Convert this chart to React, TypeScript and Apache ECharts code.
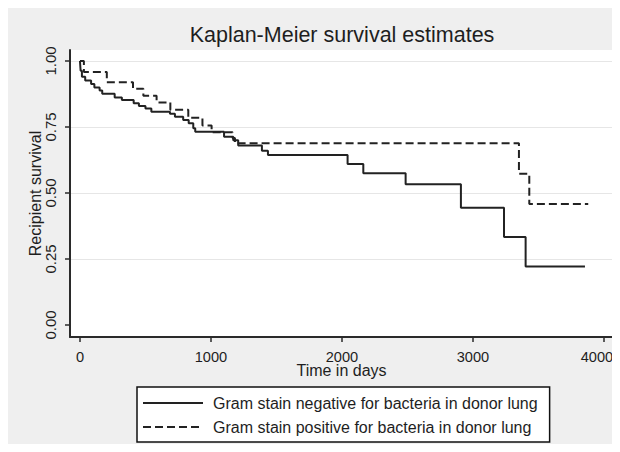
import React, { useEffect, useRef } from "react";
import * as echarts from "echarts";

const chartTitle = "Kaplan-Meier survival estimates";
const xAxisTitle = "Time in days";
const yAxisTitle = "Recipient survival";
const xTicks = [0, 1000, 2000, 3000, 4000];
const yTicks = [0, 0.25, 0.5, 0.75, 1];
const seriesNames = [
  "Gram stain negative for bacteria in donor lung",
  "Gram stain positive for bacteria in donor lung",
];

const negTimes = [0, 5, 15, 40, 85, 110, 150, 170, 265, 320, 410, 450, 500, 545, 687, 725, 788, 830, 865, 880, 1100, 1170, 1208, 1389, 1435, 2043, 2163, 2486, 2908, 3237, 3402, 3855];
const negSurv = [1.0, 0.963, 0.94, 0.926, 0.913, 0.9, 0.888, 0.876, 0.862, 0.852, 0.84, 0.83, 0.82, 0.808, 0.8, 0.789, 0.777, 0.764, 0.745, 0.732, 0.713, 0.7, 0.68, 0.66, 0.644, 0.61, 0.575, 0.533, 0.444, 0.333, 0.222, 0.222];

const posTimes = [0, 30, 205, 405, 484, 585, 690, 827, 935, 1005, 1165, 1183, 3351, 3430, 3880];
const posSurv = [1.0, 0.958, 0.92, 0.895, 0.868, 0.843, 0.815, 0.785, 0.756, 0.73, 0.708, 0.688, 0.573, 0.458, 0.458];

const FONT = '"Liberation Sans", Arial, sans-serif';
const TEXT = "#1e1e1e";
const AXIS = "#2a2a2a";

export default function App() {
  const ref = useRef<HTMLDivElement>(null);
  useEffect(() => {
    if (!ref.current) return;
    const chart = echarts.init(ref.current, null, { renderer: "svg" });
    const lastTick = xTicks[xTicks.length - 1];
    const option: any = {
      animation: false,
      backgroundColor: "#efefef",
      title: {
        text: chartTitle,
        left: 334,
        top: 16,
        textAlign: "center",
        padding: 0,
        textStyle: { fontSize: 21.5, fontWeight: "normal", color: TEXT, fontFamily: FONT },
      },
      grid: {
        left: 62,
        right: 35,
        top: 42,
        bottom: 107,
        show: true,
        backgroundColor: "#ffffff",
        borderWidth: 0,
        outerBoundsMode: "none",
      },
      legend: {
        orient: "vertical",
        left: 129,
        top: 379,
        itemWidth: 60,
        itemHeight: 14,
        itemGap: 8,
        padding: [8, 12, 7, 5],
        backgroundColor: "#ffffff",
        borderColor: "#111",
        borderWidth: 1.5,
        selectedMode: false,
        data: seriesNames,
        itemStyle: { opacity: 0 },
        textStyle: { fontSize: 16, color: TEXT, fontFamily: FONT, padding: [0, 0, 0, 5] },
      },
      xAxis: {
        type: "value",
        min: -76,
        max: 4069,
        name: xAxisTitle,
        nameLocation: "middle",
        nameGap: 25,
        nameMoveOverlap: false,
        nameTextStyle: { fontSize: 16, color: TEXT, fontFamily: FONT },
        axisLine: { show: true, onZero: false, lineStyle: { color: AXIS, width: 2 } },
        axisTick: { show: true, customValues: xTicks, length: 5, lineStyle: { color: AXIS, width: 1.5 } },
        axisLabel: {
          customValues: xTicks,
          margin: 12,
          fontSize: 14.6,
          color: TEXT,
          fontFamily: FONT,
          formatter: (v: number) => (v === lastTick ? `{last|${v}}` : String(v)),
          rich: {
            last: { fontSize: 14.6, color: TEXT, fontFamily: FONT, padding: [0, 14, 0, 0] },
          },
        },
        splitLine: { show: false },
      },
      yAxis: {
        type: "value",
        min: -0.0455,
        max: 1.0417,
        name: yAxisTitle,
        nameLocation: "middle",
        nameRotate: 90,
        nameGap: 27,
        nameMoveOverlap: false,
        nameTextStyle: { fontSize: 16, color: TEXT, fontFamily: FONT },
        axisLine: { show: true, onZero: false, lineStyle: { color: AXIS, width: 2 } },
        axisTick: { show: true, customValues: yTicks, length: 5, lineStyle: { color: AXIS, width: 1.5 } },
        axisLabel: {
          customValues: yTicks,
          rotate: 90,
          margin: 12,
          fontSize: 15,
          color: TEXT,
          fontFamily: FONT,
          formatter: (v: number) => v.toFixed(2),
        },
        splitLine: {
          show: true,
          lineStyle: { color: ["rgba(0,0,0,0)", "#e6e6e6", "#e6e6e6", "#e6e6e6", "#e6e6e6"], width: 1 },
        },
      },
      series: [
        {
          name: seriesNames[0],
          type: "line",
          step: "end",
          symbol: "none",
          showSymbol: false,
          lineStyle: { color: "#222", width: 2, type: "solid" },
          itemStyle: { color: "#222" },
          data: negTimes.map((t, i) => [t, negSurv[i]]),
        },
        {
          name: seriesNames[1],
          type: "line",
          step: "end",
          symbol: "none",
          showSymbol: false,
          lineStyle: { color: "#222", width: 2, type: [8, 4] },
          itemStyle: { color: "#222" },
          data: posTimes.map((t, i) => [t, posSurv[i]]),
        },
      ],
    };
    chart.setOption(option);
    return () => chart.dispose();
  }, []);
  return (
    <div style={{ width: 612, height: 436, overflow: "hidden", background: "#efefef" }}>
      <div ref={ref} style={{ width: 640, height: 436 }} />
    </div>
  );
}
